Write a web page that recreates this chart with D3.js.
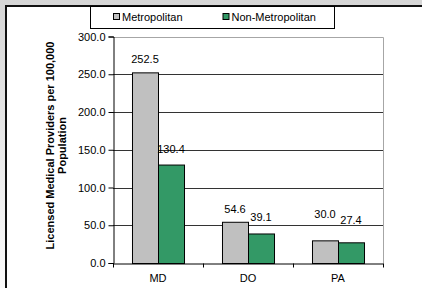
<!DOCTYPE html>
<html>
<head>
<meta charset="utf-8">
<script src="https://cdn.jsdelivr.net/npm/d3@7"></script>
<style>
  html, body { margin: 0; padding: 0; background: #fff; }
  svg { display: block; font-family: "Liberation Sans", Arial, sans-serif; }
</style>
</head>
<body>
<div id="chart"></div>
<script>
const categories = ["MD", "DO", "PA"];
const seriesNames = ["Metropolitan", "Non-Metropolitan"];
const metroValues = [252.5, 54.6, 30.0];
const nonMetroValues = [130.4, 39.1, 27.4];
const yTicks = [0, 50, 100, 150, 200, 250, 300];
const yTitle = ["Licensed Medical Providers per 100,000", "Population"];

const colors = { "Metropolitan": "#c0c0c0", "Non-Metropolitan": "#339966" };

const W = 422, H = 288;
const plot = { left: 113, right: 383, top: 36.5, bottom: 263 };

const svg = d3.select("#chart").append("svg")
  .attr("width", W)
  .attr("height", H);

// outer grey frame with light gradient
const defs = svg.append("defs");
const grad = defs.append("linearGradient")
  .attr("id", "bg").attr("x1", 0).attr("y1", 0).attr("x2", 0).attr("y2", 1);
grad.append("stop").attr("offset", "0%").attr("stop-color", "#d6d6d6");
grad.append("stop").attr("offset", "100%").attr("stop-color", "#fbfbfb");
svg.append("rect").attr("width", W).attr("height", H).attr("fill", "url(#bg)");

// white chart area, dark edge on left and top
svg.append("rect").attr("x", 7).attr("y", 7).attr("width", W - 7).attr("height", H - 7).attr("fill", "#fff");
svg.append("path")
  .attr("d", `M6,${H} V6 H${W}`)
  .attr("fill", "none").attr("stroke", "#111").attr("stroke-width", 2);

const rows = categories.map((c, i) => ({
  cat: c,
  values: [
    { key: seriesNames[0], value: metroValues[i] },
    { key: seriesNames[1], value: nonMetroValues[i] }
  ]
}));

const x0 = d3.scaleBand().domain(categories).range([plot.left, plot.right]).padding(0);
const x1 = d3.scaleBand().domain(seriesNames).range([0, x0.bandwidth()])
  .paddingInner(0).paddingOuter(0.73);
const y = d3.scaleLinear().domain([0, 300]).range([plot.bottom, plot.top]);

// gridlines
svg.append("g")
  .selectAll("line")
  .data(yTicks.filter(t => t > 0 && t < 300))
  .enter().append("line")
  .attr("x1", plot.left).attr("x2", plot.right)
  .attr("y1", d => Math.round(y(d)) + 0.5).attr("y2", d => Math.round(y(d)) + 0.5)
  .attr("stroke", "#333").attr("stroke-width", 1);

// plot border top / right (grey)
svg.append("path")
  .attr("d", `M${plot.left},${Math.round(y(300)) + 0.5} H${plot.right + 0.5} V${plot.bottom}`)
  .attr("fill", "none").attr("stroke", "#a6a6a6").attr("stroke-width", 1);

// bars
const groups = svg.append("g").selectAll("g")
  .data(rows)
  .enter().append("g")
  .attr("transform", d => `translate(${x0(d.cat)},0)`);

groups.selectAll("rect")
  .data(d => d.values)
  .enter().append("rect")
  .attr("x", d => x1(d.key) + 0.5)
  .attr("y", d => y(d.value) + 0.5)
  .attr("width", x1.bandwidth())
  .attr("height", d => y(0) - y(d.value))
  .attr("fill", d => colors[d.key])
  .attr("stroke", "#000").attr("stroke-width", 1);

// data labels (Excel pushes the short-bar labels up a bit)
groups.selectAll("text")
  .data(d => d.values)
  .enter().append("text")
  .attr("x", d => x1(d.key) + x1.bandwidth() / 2)
  .attr("y", (d, i) => i === 0 ? Math.min(y(d.value) - 9, 218) : Math.min(y(d.value) - 12, 224))
  .attr("text-anchor", "middle")
  .attr("font-size", 11)
  .attr("fill", "#000")
  .text(d => d3.format(".1f")(d.value));

// y axis
const yAxis = svg.append("g")
  .attr("transform", `translate(${plot.left + 0.5},0)`)
  .call(d3.axisLeft(y).tickValues(yTicks).tickFormat(d3.format(".1f")).tickSize(5).tickPadding(3));
yAxis.select(".domain").attr("stroke", "#000");
yAxis.selectAll(".tick line").attr("stroke", "#000");
yAxis.selectAll("text")
  .attr("font-size", 11)
  .attr("font-family", "'Liberation Sans', Arial, sans-serif")
  .attr("fill", "#000");

// x axis
const xAxis = svg.append("g")
  .attr("transform", `translate(0,${plot.bottom + 0.5})`)
  .call(d3.axisBottom(x0).tickSize(0).tickPadding(11));
xAxis.select(".domain").attr("stroke", "#000");
xAxis.selectAll("text")
  .attr("font-size", 11)
  .attr("font-family", "'Liberation Sans', Arial, sans-serif")
  .attr("fill", "#000");
// category divider ticks
xAxis.append("g").selectAll("line")
  .data(categories.map(c => x0(c)).concat([plot.right]))
  .enter().append("line")
  .attr("x1", d => d + 0.5).attr("x2", d => d + 0.5)
  .attr("y1", 0).attr("y2", 4)
  .attr("stroke", "#000");

// y title
const yt = svg.append("text")
  .attr("transform", `translate(50,145.5) rotate(-90)`)
  .attr("text-anchor", "middle")
  .attr("font-size", 11)
  .attr("font-weight", "bold")
  .attr("fill", "#000");
yt.selectAll("tspan")
  .data(yTitle)
  .enter().append("tspan")
  .attr("x", 0)
  .attr("dy", (d, i) => i === 0 ? "0.35em" : "1.1em")
  .text(d => d);

// legend
const legend = svg.append("g");
legend.append("rect")
  .attr("x", 90.5).attr("y", 6.5).attr("width", 244).attr("height", 22)
  .attr("fill", "#fff").attr("stroke", "#000").attr("stroke-width", 1);
const legendX = d3.scaleOrdinal().domain(seriesNames).range([113, 222.5]);
const items = legend.selectAll("g.item")
  .data(seriesNames)
  .enter().append("g").attr("class", "item")
  .attr("transform", d => `translate(${legendX(d)},0)`);
items.append("rect")
  .attr("x", 0.5).attr("y", 13.5).attr("width", 6).attr("height", 6)
  .attr("fill", d => colors[d]).attr("stroke", "#000").attr("stroke-width", 1);
items.append("text")
  .attr("x", 9).attr("y", 20.5)
  .attr("font-size", 11)
  .attr("fill", "#000")
  .text(d => d);
</script>
</body>
</html>
